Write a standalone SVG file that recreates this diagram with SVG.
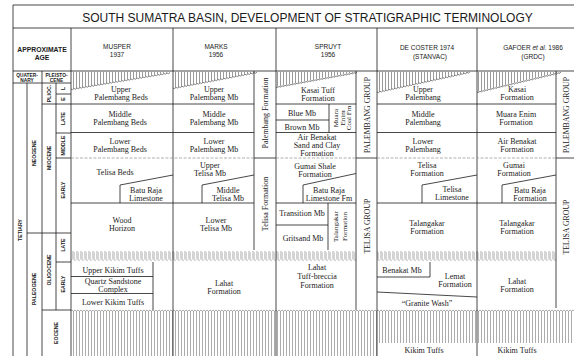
<svg xmlns="http://www.w3.org/2000/svg" width="574" height="356" viewBox="0 0 574 356">
<defs>
<style>
.ln{stroke:#1a1a1a;stroke-width:0.8;fill:none}
.dl{stroke:#9a9a9a;stroke-width:0.8;stroke-dasharray:3 1.5;fill:none}
.wv{stroke:#333;stroke-width:0.6;fill:none}
.t{font-family:"Liberation Serif",serif;font-size:8px;text-anchor:middle;fill:#1a1a1a}
.ts{font-family:"Liberation Serif",serif;font-size:7px;text-anchor:middle;fill:#1a1a1a}
.h{font-family:"Liberation Sans",sans-serif;font-size:6.5px;text-anchor:middle;fill:#1a1a1a}
.a{font-family:"Liberation Sans",sans-serif;font-weight:bold;font-size:5.2px;text-anchor:middle;fill:#1a1a1a}
.ap{font-family:"Liberation Sans",sans-serif;font-weight:bold;font-size:6.8px;text-anchor:middle;fill:#1a1a1a}
.q{font-family:"Liberation Sans",sans-serif;font-weight:bold;font-size:4.8px;text-anchor:middle;fill:#1a1a1a}
.g{font-family:"Liberation Serif",serif;font-size:7.8px;text-anchor:middle;fill:#1a1a1a}
</style>
<pattern id="vh" patternUnits="userSpaceOnUse" x="0" y="0" width="3" height="20">
<line x1="1.5" y1="0" x2="1.5" y2="20" stroke="#555" stroke-width="0.6"/>
</pattern>
<pattern id="eh" patternUnits="userSpaceOnUse" x="0" y="309" width="3" height="60">
<path d="M0,1 Q1.5,3.6 3,1" stroke="#555" stroke-width="0.5" fill="none"/>
<line x1="1.5" y1="2.3" x2="1.5" y2="60" stroke="#666" stroke-width="0.55"/>
</pattern>
<pattern id="ub" patternUnits="userSpaceOnUse" x="0" y="250" width="4" height="12">
<path d="M0,9.5 V2.5 Q1,0.4 2,2.5 V9.5 Q3,11.6 4,9.5" stroke="#555" stroke-width="0.5" fill="none"/>
</pattern>
</defs>
<rect x="0" y="0" width="574" height="356" fill="#fff"/>

<g id="hatches">
<path d="M71,72 H171 L71,89 Z" fill="url(#vh)"/>
<path d="M173,72 H257 L173,88 Z" fill="url(#vh)"/>
<path d="M276,72 H357 L276,87 Z" fill="url(#vh)"/>
<path d="M377,72 H470 L377,92 Z" fill="url(#vh)"/>
<path d="M477,72 H561 L477,92 Z" fill="url(#vh)"/>
<path class="wv" d="M71,89 q1.5,1.5 3,-0.5 q1.5,1.5 3,-0.5 q1.5,1.5 3,-0.5 q1.5,1.5 3,-0.5 q1.5,1.5 3,-0.5 q1.5,1.5 3,-0.5 q1.5,1.5 3,-0.5 q1.5,1.5 3,-0.5 q1.5,1.5 3,-0.5 q1.5,1.5 3,-0.5 q1.5,1.5 3,-0.5 q1.5,1.5 3,-0.5 q1.5,1.5 3,-0.5 q1.5,1.5 3,-0.5 q1.5,1.5 3,-0.5 q1.5,1.5 3,-0.5 q1.5,1.5 3,-0.5 q1.5,1.5 3,-0.5 q1.5,1.5 3,-0.5 q1.5,1.5 3,-0.5 q1.5,1.5 3,-0.5 q1.5,1.5 3,-0.5 q1.5,1.5 3,-0.5 q1.5,1.5 3,-0.5 q1.5,1.5 3,-0.5 q1.5,1.5 3,-0.5 q1.5,1.5 3,-0.5 q1.5,1.5 3,-0.5 q1.5,1.5 3,-0.5 q1.5,1.5 3,-0.5 q1.5,1.5 3,-0.5 q1.5,1.5 3,-0.5 q1.5,1.5 3,-0.5"/>
<path class="wv" d="M173,88 q1.5,1.5 3,-0.57 q1.5,1.5 3,-0.57 q1.5,1.5 3,-0.57 q1.5,1.5 3,-0.57 q1.5,1.5 3,-0.57 q1.5,1.5 3,-0.57 q1.5,1.5 3,-0.57 q1.5,1.5 3,-0.57 q1.5,1.5 3,-0.57 q1.5,1.5 3,-0.57 q1.5,1.5 3,-0.57 q1.5,1.5 3,-0.57 q1.5,1.5 3,-0.57 q1.5,1.5 3,-0.57 q1.5,1.5 3,-0.57 q1.5,1.5 3,-0.57 q1.5,1.5 3,-0.57 q1.5,1.5 3,-0.57 q1.5,1.5 3,-0.57 q1.5,1.5 3,-0.57 q1.5,1.5 3,-0.57 q1.5,1.5 3,-0.57 q1.5,1.5 3,-0.57 q1.5,1.5 3,-0.57 q1.5,1.5 3,-0.57 q1.5,1.5 3,-0.57 q1.5,1.5 3,-0.57 q1.5,1.5 3,-0.57"/>
<path class="wv" d="M276,87 q1.5,1.5 3,-0.55 q1.5,1.5 3,-0.55 q1.5,1.5 3,-0.55 q1.5,1.5 3,-0.55 q1.5,1.5 3,-0.55 q1.5,1.5 3,-0.55 q1.5,1.5 3,-0.55 q1.5,1.5 3,-0.55 q1.5,1.5 3,-0.55 q1.5,1.5 3,-0.55 q1.5,1.5 3,-0.55 q1.5,1.5 3,-0.55 q1.5,1.5 3,-0.55 q1.5,1.5 3,-0.55 q1.5,1.5 3,-0.55 q1.5,1.5 3,-0.55 q1.5,1.5 3,-0.55 q1.5,1.5 3,-0.55 q1.5,1.5 3,-0.55 q1.5,1.5 3,-0.55 q1.5,1.5 3,-0.55 q1.5,1.5 3,-0.55 q1.5,1.5 3,-0.55 q1.5,1.5 3,-0.55 q1.5,1.5 3,-0.55 q1.5,1.5 3,-0.55 q1.5,1.5 3,-0.55"/>
<path class="wv" d="M377,92 q1.5,1.5 3,-0.65 q1.5,1.5 3,-0.65 q1.5,1.5 3,-0.65 q1.5,1.5 3,-0.65 q1.5,1.5 3,-0.65 q1.5,1.5 3,-0.65 q1.5,1.5 3,-0.65 q1.5,1.5 3,-0.65 q1.5,1.5 3,-0.65 q1.5,1.5 3,-0.65 q1.5,1.5 3,-0.65 q1.5,1.5 3,-0.65 q1.5,1.5 3,-0.65 q1.5,1.5 3,-0.65 q1.5,1.5 3,-0.65 q1.5,1.5 3,-0.65 q1.5,1.5 3,-0.65 q1.5,1.5 3,-0.65 q1.5,1.5 3,-0.65 q1.5,1.5 3,-0.65 q1.5,1.5 3,-0.65 q1.5,1.5 3,-0.65 q1.5,1.5 3,-0.65 q1.5,1.5 3,-0.65 q1.5,1.5 3,-0.65 q1.5,1.5 3,-0.65 q1.5,1.5 3,-0.65 q1.5,1.5 3,-0.65 q1.5,1.5 3,-0.65 q1.5,1.5 3,-0.65 q1.5,1.5 3,-0.65"/>
<path class="wv" d="M477,92 q1.5,1.5 3,-0.71 q1.5,1.5 3,-0.71 q1.5,1.5 3,-0.71 q1.5,1.5 3,-0.71 q1.5,1.5 3,-0.71 q1.5,1.5 3,-0.71 q1.5,1.5 3,-0.71 q1.5,1.5 3,-0.71 q1.5,1.5 3,-0.71 q1.5,1.5 3,-0.71 q1.5,1.5 3,-0.71 q1.5,1.5 3,-0.71 q1.5,1.5 3,-0.71 q1.5,1.5 3,-0.71 q1.5,1.5 3,-0.71 q1.5,1.5 3,-0.71 q1.5,1.5 3,-0.71 q1.5,1.5 3,-0.71 q1.5,1.5 3,-0.71 q1.5,1.5 3,-0.71 q1.5,1.5 3,-0.71 q1.5,1.5 3,-0.71 q1.5,1.5 3,-0.71 q1.5,1.5 3,-0.71 q1.5,1.5 3,-0.71 q1.5,1.5 3,-0.71 q1.5,1.5 3,-0.71 q1.5,1.5 3,-0.71"/>
<rect x="71" y="250" width="205" height="12" fill="url(#ub)"/>
<rect x="276" y="250" width="80" height="12" fill="url(#ub)"/>
<rect x="377" y="250" width="179" height="12" fill="url(#ub)"/>
<rect x="71" y="309" width="306" height="47" fill="url(#eh)"/>
<rect x="377" y="309" width="213" height="34" fill="url(#eh)"/>
</g>

<g id="connectors">
<path class="ln" d="M13,356 V5 H590 M13,28 H590 M13,71 H590"/>
<path class="ln" d="M71,28 V356 M173,28 V356 M276,28 V356 M377,28 V356 M477,28 V356"/>
<path class="ln" d="M42,71 V356 M27,83 V356 M56,83 V310 M13,83 H71 M56,94 H71 M42,104 H71 M56,133 H71 M56,158 H71 M27,233 H71 M56,262 H71 M42,310 H71"/>
<path class="ln" d="M254,71 V250 M356,71 V310 M556,71 V308 M254,158 H276 M356,158 H377 M556,158 H590"/>
<path class="ln" d="M71,104 H254 M276,104 H356 M377,104 H556 M71,132.5 H254 M276,132.5 H356 M377,132.5 H556 M71,203 H254 M276,203 H356 M377,203 H556"/>
<path class="dl" d="M71,158 H254 M276,158 H356 M377,158 H556"/>
<path class="ln" d="M120,203 V185 L173,175 M202,203 V185 L254,175 M303,203 V185 L356,173.5 M422,203 V185 L477,175 M502,203 V185 L556,175"/>
<path class="ln" d="M276,120 H329 M329,104 V132.5 M276,225 H328 M328,203 V250"/>
<path class="ln" d="M71,276.5 H153 M71,293.5 H153 M153,262 V310"/>
<path class="ln" d="M430,262 V277 H377 M377,292 L477,297"/>
</g>

<g id="title"><text x="307.5" y="22" style="font-family:'Liberation Sans',sans-serif;font-size:12px;text-anchor:middle;fill:#1a1a1a">SOUTH SUMATRA BASIN, DEVELOPMENT OF STRATIGRAPHIC TERMINOLOGY</text></g>

<g id="age">
<text class="ap" x="42" y="51.7">APPROXIMATE</text>
<text class="ap" x="42" y="59.7">AGE</text>
<text class="q" x="27" y="76.5">QUATER-</text>
<text class="q" x="27" y="81.6">NARY</text>
<text class="q" x="56.5" y="76.5">PLEISTO-</text>
<text class="q" x="56.5" y="81.6">CENE</text>
<text class="a" transform="translate(21.9,230) rotate(-90)">TETIARY</text>
<text class="a" transform="translate(36.4,153) rotate(-90)">NEOGENE</text>
<text class="a" transform="translate(36.4,289) rotate(-90)">PALEOGENE</text>
<text class="a" transform="translate(50.9,93.5) rotate(-90)">PLIOC.</text>
<text class="a" transform="translate(50.9,158) rotate(-90)">MIOCENE</text>
<text class="a" transform="translate(50.9,270) rotate(-90)">OLIGOCENE</text>
<text class="a" transform="translate(58.4,333) rotate(-90)">EOCENE</text>
<text class="a" transform="translate(65.4,88.5) rotate(-90)">L</text>
<text class="a" transform="translate(65.4,99) rotate(-90)">E</text>
<text class="a" transform="translate(65.4,118.5) rotate(-90)">LATE</text>
<text class="a" transform="translate(65.4,145.5) rotate(-90)">MIDDLE</text>
<text class="a" transform="translate(65.4,190) rotate(-90)">EARLY</text>
<text class="a" transform="translate(65.4,245) rotate(-90)">LATE</text>
<text class="a" transform="translate(65.4,284) rotate(-90)">EARLY</text>
</g>

<g id="musper">
<text class="h" x="117" y="48.5">MUSPER</text>
<text class="h" x="117" y="56.5">1937</text>
<text class="t" x="121" y="92">Upper</text>
<text class="t" x="121" y="100">Palembang Beds</text>
<text class="t" x="120" y="116.5">Middle</text>
<text class="t" x="120" y="124.5">Palembang Beds</text>
<text class="t" x="120" y="143.5">Lower</text>
<text class="t" x="120" y="151.5">Palembang Beds</text>
<text class="t" x="115" y="174.5">Telisa  Beds</text>
<text class="t" x="146" y="192.5">Batu Raja</text>
<text class="t" x="146" y="200.5">Limestone</text>
<text class="t" x="122" y="223">Wood</text>
<text class="t" x="122" y="231">Horizon</text>
<text class="t" x="113" y="273">Upper Kikim Tuffs</text>
<text class="t" x="113" y="284">Quartz Sandstone</text>
<text class="t" x="113" y="292">Complex</text>
<text class="t" x="113" y="305">Lower Kikim Tuffs</text>
</g>

<g id="marks">
<text class="h" x="216" y="48.5">MARKS</text>
<text class="h" x="216" y="56.5">1956</text>
<text class="t" x="214" y="92">Upper</text>
<text class="t" x="214" y="100">Palembang Mb</text>
<text class="t" x="214" y="116.5">Middle</text>
<text class="t" x="214" y="124.5">Palembang Mb</text>
<text class="t" x="214" y="144">Lower</text>
<text class="t" x="214" y="152">Palembang Mb</text>
<text class="t" x="210" y="168">Upper</text>
<text class="t" x="210" y="176">Telisa Mb</text>
<text class="t" x="228" y="192.5">Middle</text>
<text class="t" x="228" y="200.5">Telisa Mb</text>
<text class="t" x="216" y="222.5">Lower</text>
<text class="t" x="216" y="230.5">Telisa Mb</text>
<text class="t" x="224" y="285.5">Lahat</text>
<text class="t" x="224" y="293.5">Formation</text>
<text class="t" transform="translate(267.6,113) rotate(-90)">Palembang Formation</text>
<text class="t" transform="translate(267.6,204) rotate(-90)">Telisa Formation</text>
</g>

<g id="spruyt">
<text class="h" x="328" y="48.5">SPRUYT</text>
<text class="h" x="328" y="56.5">1956</text>
<text class="t" x="318" y="93">Kasai Tuff</text>
<text class="t" x="318" y="101">Formation</text>
<text class="t" x="302" y="115.5">Blue Mb</text>
<text class="t" x="302" y="129.5">Brown Mb</text>
<text class="ts" transform="translate(338,118) rotate(-90)">Muara</text>
<text class="ts" transform="translate(344.5,118) rotate(-90)">Enim</text>
<text class="ts" transform="translate(351,118) rotate(-90)">Coal Fm</text>
<text class="t" x="317" y="140">Air Benakat</text>
<text class="t" x="317" y="148">Sand and Clay</text>
<text class="t" x="317" y="156">Formation</text>
<text class="t" x="315" y="168.5">Gumai Shale</text>
<text class="t" x="315" y="176.5">Formation</text>
<text class="t" x="329" y="192.5">Batu Raja</text>
<text class="t" x="329" y="200.5">Limestone Fm</text>
<text class="t" x="302" y="216">Transition Mb</text>
<text class="t" x="303" y="241">Gritsand Mb</text>
<text class="ts" transform="translate(338.3,226.5) rotate(-90)">Talangakar</text>
<text class="ts" transform="translate(347,226.5) rotate(-90)">Formation</text>
<text class="t" x="317" y="269.5">Lahat</text>
<text class="t" x="317" y="278.5">Tuff-breccia</text>
<text class="t" x="317" y="287.5">Formation</text>
<text class="g" transform="translate(369.6,115) rotate(-90)">PALEMBANG GROUP</text>
<text class="g" transform="translate(369.6,226) rotate(-90)">TELISA GROUP</text>
</g>

<g id="decoster">
<text class="h" x="427" y="50">DE COSTER  1974</text>
<text class="h" x="430" y="58.5">(STANVAC)</text>
<text class="t" x="423" y="92">Upper</text>
<text class="t" x="423" y="100">Palembang</text>
<text class="t" x="423" y="116.5">Middle</text>
<text class="t" x="423" y="124.5">Palembang</text>
<text class="t" x="423" y="144">Lower</text>
<text class="t" x="423" y="152">Palembang</text>
<text class="t" x="427" y="168">Telisa</text>
<text class="t" x="427" y="176">Formation</text>
<text class="t" x="452" y="192">Telisa</text>
<text class="t" x="452" y="200">Limestone</text>
<text class="t" x="427" y="225.5">Talangakar</text>
<text class="t" x="427" y="233.5">Formation</text>
<text class="t" x="402" y="273">Benakat Mb</text>
<text class="t" x="455" y="279">Lemat</text>
<text class="t" x="455" y="287">Formation</text>
<text class="t" x="427" y="305.5">“Granite Wash”</text>
<text class="t" x="424" y="353">Kikim Tuffs</text>
</g>

<g id="gafoer">
<text class="h" x="533" y="50"><tspan>GAFOER </tspan><tspan font-style="italic">et al.</tspan><tspan>  1986</tspan></text>
<text class="h" x="533" y="58.5">(GRDC)</text>
<text class="t" x="517" y="92">Kasai</text>
<text class="t" x="517" y="100">Formation</text>
<text class="t" x="516" y="116.5">Muara Enim</text>
<text class="t" x="516" y="124.5">Formation</text>
<text class="t" x="517" y="144">Air Benakat</text>
<text class="t" x="517" y="152">Formation</text>
<text class="t" x="514" y="168">Gumai</text>
<text class="t" x="514" y="176">Formation</text>
<text class="t" x="530" y="193">Batu Raja</text>
<text class="t" x="530" y="201">Formation</text>
<text class="t" x="517" y="225.5">Talangakar</text>
<text class="t" x="517" y="233.5">Formation</text>
<text class="t" x="517" y="284">Lahat</text>
<text class="t" x="517" y="292">Formation</text>
<text class="t" x="517" y="353">Kikim Tuffs</text>
<text class="g" transform="translate(568.6,115) rotate(-90)">PALEMBANG GROUP</text>
<text class="g" transform="translate(568.6,227) rotate(-90)">TELISA GROUP</text>
</g>
</svg>
